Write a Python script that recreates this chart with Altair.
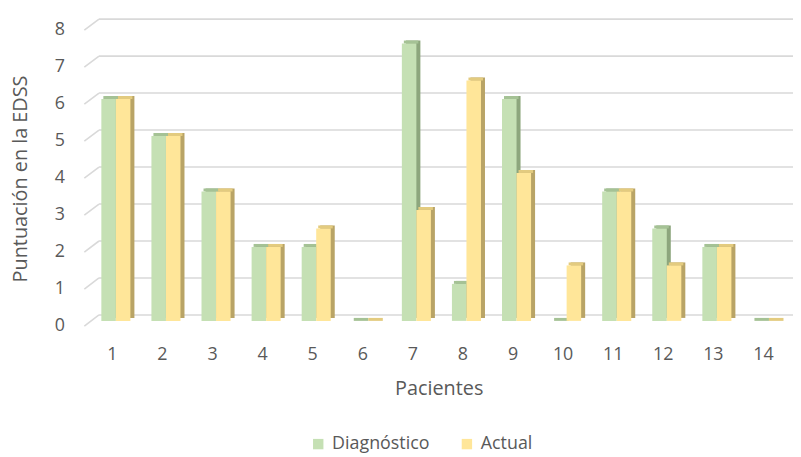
import altair as alt
import pandas as pd

# ---- data ----
pacientes = list(range(1, 15))
diagnostico = [6, 5, 3.5, 2, 2, 0, 7.5, 1, 6, 0, 3.5, 2.5, 2, 0]
actual = [6, 5, 3.5, 2, 2.5, 0, 3, 6.5, 4, 1.5, 3.5, 1.5, 2, 0]
series = ["Diagnóstico", "Actual"]
y_ticks = list(range(0, 9))

rows = []
for p, d, a in zip(pacientes, diagnostico, actual):
    rows.append({"paciente": p, "serie": series[0], "orden": 0, "valor": d})
    rows.append({"paciente": p, "serie": series[1], "orden": 1, "valor": a})
df = pd.DataFrame(rows)
grid_df = pd.DataFrame({"v": y_ticks})

# ---- styling ----
FONT = "Open Sans"
TXT = "#595959"
FRONT = ["#C5E0B4", "#FFE699"]
SIDE = ["#8DA67D", "#B9A466"]
TOP = ["#A5C295", "#E3CB7F"]
GRID = "#D9D9D9"

X_DOM = [0.45, 14.6]
Y_DOM = [-0.25, 8.3]
xs = alt.Scale(domain=X_DOM, nice=False, zero=False)
ys = alt.Scale(domain=Y_DOM, nice=False, zero=False)

BW = 0.29    # bar width (category units)
OFF = -0.21  # left of first bar relative to category
DX = 0.08    # 3-D depth, x
DY = 0.08    # 3-D depth, y
GS = 0.16    # back-wall shift of gridlines
WALL_X = 0.743


def ax_x():
    return alt.Axis(
        values=pacientes, format="d", title="Pacientes", grid=False, domain=False,
        ticks=False, labelPadding=16, titlePadding=15,
    )


def ax_y():
    return alt.Axis(
        values=y_ticks, format="d", title="Puntuación en la EDSS", grid=False,
        domain=False, ticks=False, labelPadding=20, labelOffset=5,
        titleX=-64, titleY=166, titleBaseline="middle", titleAngle=-90,
    )


base = alt.Chart(df).transform_calculate(
    x0=f"datum.paciente + ({OFF}) + datum.orden * {BW}"
).transform_calculate(x1=f"datum.x0 + {BW}")

# gridlines on the back wall + perspective stubs
grid = alt.Chart(grid_df).transform_calculate(
    gx0=f"{WALL_X}", gx1=f"{X_DOM[1]}", gy=f"datum.v + {GS}"
).mark_rule(color=GRID, strokeWidth=1.6).encode(
    x=alt.X("gx0:Q", scale=xs, axis=ax_x()),
    x2="gx1:Q",
    y=alt.Y("gy:Q", scale=ys, axis=ax_y()),
)
stubs = alt.Chart(grid_df).transform_calculate(
    sx0=f"{X_DOM[0]}", sx1=f"{WALL_X}", sy0="datum.v - 0.14", sy1=f"datum.v + {GS}"
).mark_rule(color=GRID, strokeWidth=1.6).encode(
    x=alt.X("sx0:Q", scale=xs, axis=ax_x()),
    x2="sx1:Q",
    y=alt.Y("sy0:Q", scale=ys, axis=ax_y()),
    y2="sy1:Q",
)

shadow = base.transform_calculate(
    a0=f"datum.x0 + {DX}", a1=f"datum.x1 + {DX}", b0=f"{DY}", b1=f"datum.valor + {DY}"
).mark_rect().encode(
    x=alt.X("a0:Q", scale=xs, axis=ax_x()),
    x2="a1:Q",
    y=alt.Y("b0:Q", scale=ys, axis=ax_y()),
    y2="b1:Q",
    color=alt.Color("serie:N", scale=alt.Scale(domain=series, range=SIDE), legend=None),
)

top = base.transform_calculate(
    c0=f"datum.x0 + {DX / 2}", c1=f"datum.x1 + {DX / 2}", d0="datum.valor", d1=f"datum.valor + {DY}"
).mark_rect().encode(
    x=alt.X("c0:Q", scale=xs, axis=ax_x()),
    x2="c1:Q",
    y=alt.Y("d0:Q", scale=ys, axis=ax_y()),
    y2="d1:Q",
    color=alt.Color("serie:N", scale=alt.Scale(domain=series, range=TOP), legend=None),
)

front = base.transform_calculate(zero="0").mark_rect().encode(
    x=alt.X("x0:Q", scale=xs, axis=ax_x()),
    x2="x1:Q",
    y=alt.Y("zero:Q", scale=ys, axis=ax_y()),
    y2="valor:Q",
    color=alt.Color(
        "serie:N",
        scale=alt.Scale(domain=series, range=FRONT),
        sort=series,
        legend=alt.Legend(
            title=None, orient="none", legendX=227, legendY=425, direction="horizontal",
            symbolType="square", symbolSize=110, symbolStrokeWidth=0, labelOffset=5,
            columnPadding=28, padding=0,
        ),
    ),
)

chart = alt.layer(grid, stubs, shadow, top, front).resolve_scale(
    color="independent"
).properties(
    width=715,
    height=319,
    padding={"left": 77, "top": 4, "right": 0, "bottom": 124},
    autosize=alt.AutoSizeParams(type="none"),
).configure_view(stroke=None).configure_axis(
    labelFont=FONT, labelFontSize=18, labelColor=TXT,
    titleFont=FONT, titleFontSize=20, titleColor=TXT, titleFontWeight="normal",
).configure_legend(
    labelFont=FONT, labelFontSize=18, labelColor=TXT,
)

chart.save("out.html", embed_options={"renderer": "svg", "actions": False})
